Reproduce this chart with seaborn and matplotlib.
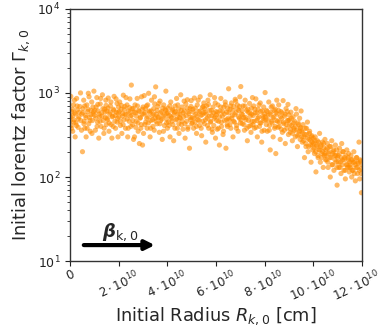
import numpy as np
import pandas as pd
import matplotlib
matplotlib.use("Agg")
import matplotlib.pyplot as plt
import matplotlib.transforms as mtransforms
import seaborn as sns

# Initial radius in units of 1e10 cm
radius_e10 = [
    0.01,0.03,0.05,0.07,0.09,0.11,0.14,0.16,0.19,0.21,0.24,0.27,0.3,0.33,0.36,0.4,0.44,0.48,
    0.51,0.53,0.56,0.58,0.61,0.64,0.66,0.69,0.72,0.75,0.77,0.8,0.83,0.86,0.89,0.92,0.95,0.98,
    1.01,1.04,1.07,1.1,1.13,1.15,1.18,1.21,1.24,1.27,1.3,1.33,1.36,1.39,1.42,1.45,1.47,1.49,
    1.51,1.54,1.57,1.6,1.63,1.66,1.69,1.72,1.75,1.78,1.81,1.84,1.87,1.9,1.93,1.95,1.97,1.99,
    2.01,2.04,2.07,2.1,2.13,2.16,2.19,2.22,2.25,2.28,2.31,2.34,2.37,2.4,2.43,2.46,2.48,2.5,
    2.52,2.55,2.58,2.61,2.64,2.67,2.7,2.73,2.76,2.79,2.82,2.85,2.88,2.91,2.94,2.96,2.98,3.0,
    3.02,3.05,3.08,3.11,3.14,3.17,3.2,3.23,3.26,3.29,3.32,3.35,3.38,3.41,3.44,3.46,3.48,3.5,
    3.52,3.55,3.58,3.61,3.64,3.67,3.7,3.73,3.76,3.79,3.82,3.85,3.88,3.91,3.94,3.96,3.98,4.0,
    4.02,4.05,4.08,4.11,4.14,4.17,4.2,4.23,4.26,4.29,4.32,4.35,4.38,4.41,4.44,4.46,4.48,4.5,
    4.52,4.55,4.58,4.61,4.64,4.67,4.7,4.73,4.76,4.79,4.82,4.85,4.88,4.91,4.94,4.96,4.98,5.0,
    5.02,5.05,5.08,5.11,5.14,5.17,5.2,5.23,5.26,5.29,5.32,5.35,5.38,5.41,5.44,5.46,5.48,5.5,
    5.52,5.55,5.58,5.61,5.64,5.67,5.7,5.73,5.76,5.79,5.82,5.85,5.88,5.91,5.94,5.96,5.98,6.0,
    6.02,6.05,6.08,6.11,6.14,6.17,6.2,6.23,6.26,6.29,6.32,6.35,6.38,6.41,6.44,6.46,6.48,6.5,
    6.52,6.55,6.58,6.61,6.64,6.67,6.7,6.73,6.76,6.79,6.82,6.85,6.88,6.91,6.94,6.96,6.98,7.0,
    7.02,7.05,7.08,7.11,7.14,7.17,7.2,7.23,7.26,7.29,7.32,7.35,7.38,7.41,7.44,7.46,7.48,7.5,
    7.52,7.55,7.58,7.61,7.64,7.67,7.7,7.73,7.76,7.79,7.82,7.85,7.88,7.91,7.94,7.96,7.98,8.0,
    8.02,8.05,8.08,8.11,8.14,8.17,8.2,8.23,8.26,8.29,8.32,8.35,8.38,8.41,8.44,8.46,8.48,8.5,
    8.52,8.55,8.58,8.61,8.64,8.67,8.7,8.73,8.76,8.79,8.82,8.85,8.88,8.91,8.94,8.96,8.98,9.0,
    9.02,9.05,9.08,9.11,9.14,9.17,9.2,9.23,9.26,9.29,9.32,9.35,9.38,9.41,9.44,9.46,9.48,9.5,
    9.52,9.55,9.58,9.61,9.64,9.67,9.7,9.73,9.76,9.79,9.82,9.85,9.88,9.91,9.94,9.96,9.98,10.0,
    10.02,10.05,10.08,10.11,10.14,10.17,10.2,10.23,10.26,10.29,10.32,10.35,10.38,10.41,10.44,10.46,10.48,10.5,
    10.52,10.55,10.58,10.61,10.64,10.67,10.7,10.73,10.76,10.79,10.82,10.85,10.88,10.91,10.94,10.96,10.98,11.0,
    11.02,11.05,11.08,11.11,11.14,11.17,11.2,11.23,11.26,11.29,11.32,11.35,11.38,11.41,11.44,11.46,11.48,11.5,
    11.52,11.55,11.58,11.61,11.64,11.67,11.7,11.73,11.76,11.79,11.82,11.85,11.88,11.91,11.94,11.96,11.98,12.0,
]

# Initial Lorentz factor Gamma_{k,0}
lorentz = [
    470,910,410,600,530,350,720,480,580,300,440,860,630,390,520,690,470,560,
    200,650,820,460,380,540,300,720,600,990,430,510,350,620,780,470,560,1050,
    540,360,680,880,450,610,290,520,740,400,580,950,470,330,640,510,820,420,
    610,480,870,350,560,700,420,290,530,640,910,460,380,590,750,500,300,680,
    520,780,410,640,330,570,940,480,690,380,550,720,300,610,460,850,530,400,
    1240,650,470,280,590,720,390,530,860,440,620,250,500,380,900,560,240,680,
    330,930,580,450,700,380,520,990,610,300,470,820,540,400,650,360,740,500,
    1180,560,430,690,510,340,800,470,600,280,530,720,410,640,1050,490,570,380,
    660,450,540,300,780,500,620,420,270,590,700,480,860,380,560,640,330,510,
    560,950,420,680,370,520,610,290,740,460,830,390,570,220,650,480,810,430,
    510,640,380,870,450,560,330,720,480,600,410,900,540,310,670,460,580,760,
    430,590,260,700,500,820,380,620,950,460,540,340,680,410,880,520,290,600,
    550,370,720,460,240,610,860,400,530,320,680,470,780,220,590,420,650,500,
    1120,480,640,380,760,540,300,690,450,840,580,410,720,350,620,500,900,440,
    1190,560,430,700,510,360,820,480,620,270,590,400,750,530,340,660,460,880,
    420,700,380,580,850,470,300,640,520,400,760,440,260,610,500,680,360,560,
    1010,480,620,350,540,780,410,210,590,460,700,300,520,380,640,190,470,820,
    560,390,720,450,280,600,500,340,810,430,530,250,650,380,470,730,320,550,
    480,340,590,410,270,520,380,460,300,650,360,230,440,320,500,280,390,610,
    350,260,420,300,170,380,230,320,450,200,280,350,240,150,310,260,210,290,
    250,190,300,115,230,270,170,210,330,150,240,190,260,130,220,180,280,160,
    210,160,250,130,190,230,100,170,270,140,200,120,180,240,150,210,80,170,
    180,130,220,150,110,250,160,200,120,170,95,140,210,130,160,190,115,150,
    140,180,100,160,120,200,150,90,130,170,110,145,260,95,155,125,65,140,
]

# second group of read-off points (denser core of the band)
radius_e10_core = [
    0.02,0.06,0.1,0.15,0.18,0.22,0.26,0.29,0.34,0.38,0.43,0.47,
    0.52,0.57,0.6,0.65,0.7,0.74,0.78,0.82,0.85,0.9,0.94,0.97,
    1.02,1.06,1.11,1.14,1.19,1.23,1.26,1.31,1.35,1.4,1.44,1.48,
    1.52,1.56,1.61,1.65,1.68,1.73,1.77,1.8,1.85,1.89,1.94,1.98,
    2.02,2.06,2.11,2.15,2.18,2.23,2.27,2.3,2.35,2.39,2.44,2.47,
    2.53,2.57,2.6,2.65,2.69,2.72,2.77,2.8,2.84,2.89,2.93,2.97,
    3.03,3.07,3.1,3.15,3.19,3.22,3.27,3.31,3.34,3.39,3.43,3.47,
    3.53,3.57,3.6,3.65,3.69,3.72,3.77,3.81,3.84,3.89,3.93,3.97,
    4.03,4.07,4.1,4.15,4.19,4.22,4.27,4.31,4.34,4.39,4.43,4.47,
    4.53,4.57,4.6,4.65,4.69,4.72,4.77,4.81,4.84,4.89,4.93,4.97,
    5.03,5.07,5.1,5.15,5.19,5.22,5.27,5.31,5.34,5.39,5.43,5.47,
    5.53,5.57,5.6,5.65,5.69,5.72,5.77,5.81,5.84,5.89,5.93,5.97,
    6.03,6.07,6.1,6.15,6.19,6.22,6.27,6.31,6.34,6.39,6.43,6.47,
    6.53,6.57,6.6,6.65,6.69,6.72,6.77,6.81,6.84,6.89,6.93,6.97,
    7.03,7.07,7.1,7.15,7.19,7.22,7.27,7.31,7.34,7.39,7.43,7.47,
    7.53,7.57,7.6,7.65,7.69,7.72,7.77,7.81,7.84,7.89,7.93,7.97,
    8.03,8.07,8.1,8.15,8.19,8.22,8.27,8.31,8.34,8.39,8.43,8.47,
    8.53,8.57,8.6,8.65,8.69,8.72,8.77,8.81,8.84,8.89,8.93,8.97,
    9.03,9.07,9.1,9.15,9.19,9.22,9.27,9.31,9.34,9.39,9.43,9.47,
    9.53,9.57,9.6,9.65,9.69,9.72,9.77,9.81,9.84,9.89,9.93,9.97,
    10.03,10.07,10.1,10.15,10.19,10.22,10.27,10.31,10.34,10.39,10.43,10.47,
    10.53,10.57,10.6,10.65,10.69,10.72,10.77,10.81,10.84,10.89,10.93,10.97,
    11.03,11.07,11.1,11.15,11.19,11.22,11.27,11.31,11.34,11.39,11.43,11.47,
    11.53,11.57,11.6,11.65,11.69,11.72,11.77,11.81,11.84,11.89,11.93,11.97,
]
lorentz_core = [
    520,380,640,450,820,560,410,700,490,590,1000,360,
    580,430,700,510,380,640,900,470,550,330,680,600,
    620,500,400,730,560,460,860,530,650,380,590,710,
    500,660,440,590,780,520,400,620,540,850,450,580,
    600,460,710,530,420,640,560,880,490,380,670,590,
    540,420,650,300,580,460,700,350,600,510,420,640,
    560,420,650,500,720,440,590,380,610,480,560,900,
    460,620,520,750,430,580,490,660,350,550,620,440,
    580,410,700,520,460,640,550,380,600,490,720,430,
    500,620,460,580,800,430,540,660,370,600,510,690,
    440,590,500,660,400,530,820,470,610,380,550,690,
    650,480,560,410,730,530,450,620,370,580,500,760,
    470,590,380,520,680,450,600,350,560,720,480,400,
    580,420,700,500,620,460,550,800,380,640,520,690,
    480,620,550,420,700,510,380,640,470,580,410,560,
    540,460,640,390,580,500,720,440,600,350,530,470,
    520,420,600,470,360,560,680,440,510,620,400,580,
    460,620,400,520,370,580,450,360,560,420,600,470,
    420,370,500,330,440,360,400,560,310,420,350,380,
    300,340,270,320,250,380,290,230,330,270,300,240,
    220,270,200,240,180,260,210,230,170,200,250,190,
    180,220,150,200,170,230,140,190,210,160,180,130,
    150,190,130,170,140,200,160,120,180,140,170,130,
    130,160,120,150,110,140,170,130,150,120,160,110,
]

xtick_values_e10 = [0, 2, 4, 6, 8, 10, 12]
xtick_labels = ["0", r"$2\cdot10^{10}$", r"$4\cdot10^{10}$", r"$6\cdot10^{10}$",
                r"$8\cdot10^{10}$", r"$10\cdot10^{10}$", r"$12\cdot10^{10}$"]

df = pd.DataFrame({"R": np.array(radius_e10 + radius_e10_core) * 1e10,
                   "G": lorentz + lorentz_core})

sns.set_style("ticks")
fig = plt.figure(figsize=(3.85, 3.28), dpi=100)
ax = fig.add_axes([0.182, 0.204, 0.758, 0.769])

sns.scatterplot(data=df, x="R", y="G", ax=ax, color="#ff8c00", alpha=0.6,
                s=14, edgecolor="none", linewidth=0)

ax.set_yscale("log")
ax.set_ylim(10, 1e4)
ax.set_xlim(0, 12e10)
ax.set_xticks([v * 1e10 for v in xtick_values_e10])
ax.set_xticklabels(xtick_labels, rotation=25, ha="center")
ax.tick_params(axis="both", labelsize=9, colors="#222222", direction="out", length=3.5)
ax.tick_params(axis="x", pad=1.5, labelsize=8.6)
ax.tick_params(axis="y", which="minor", length=2)
for sp in ax.spines.values():
    sp.set_visible(True)
    sp.set_color("#333333")
    sp.set_linewidth(1.0)

# nudge the last x tick label slightly left so it stays inside the figure
last = ax.get_xticklabels()[-1]
last.set_transform(last.get_transform() +
                   mtransforms.ScaledTranslation(-4 / 72, 0, fig.dpi_scale_trans))

ax.set_xlabel(r"Initial Radius $R_{k,0}$ [cm]", fontsize=12.8, labelpad=1)
ax.set_ylabel(r"Initial lorentz factor $\Gamma_{k,0}$", fontsize=12.8, labelpad=4)

ax.annotate("", xy=(3.6e10, 15.5), xytext=(0.45e10, 15.5),
            arrowprops=dict(arrowstyle="-|>", lw=3, color="black", mutation_scale=14))
ax.text(2.05e10, 22, r"$\boldsymbol{\beta}_{\rm k,0}$", fontsize=13, ha="center", va="center")

fig.savefig("out.png", dpi=100)
